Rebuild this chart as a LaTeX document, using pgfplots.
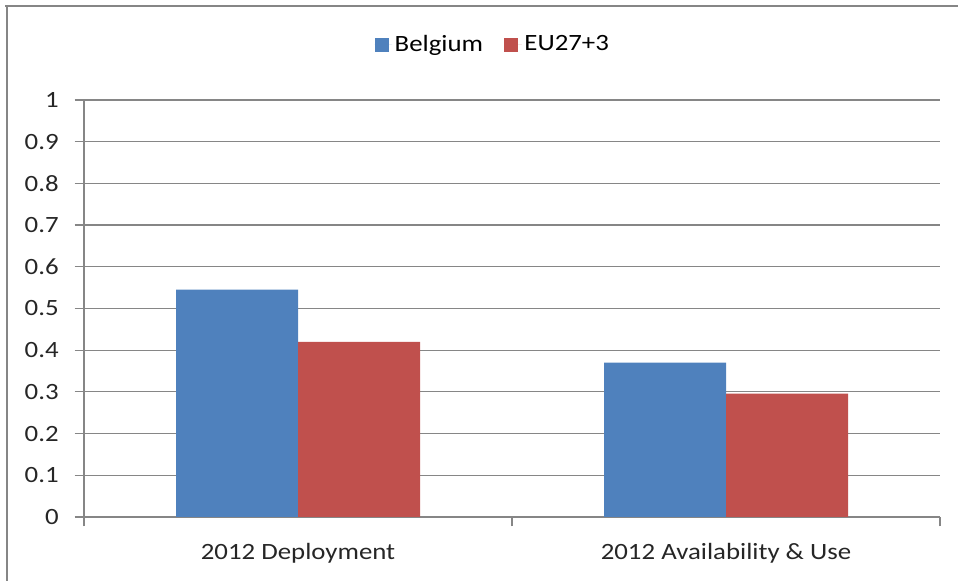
\documentclass[border=0pt]{standalone}
\usepackage{pgfplots}
\pgfplotsset{compat=1.18}
\usepackage{fontspec}
\setmainfont{Carlito}[FakeStretch=1.15]
\definecolor{cblue}{HTML}{4F81BD}
\definecolor{cred}{HTML}{C0504D}
\definecolor{cgrid}{HTML}{868686}
\begin{document}
\fontsize{17.5}{20}\selectfont
\begin{tikzpicture}
\path[use as bounding box] (0pt,0pt) rectangle (718.5pt,435.75pt);
\draw[line width=2.2pt,color=cgrid] (5.25pt,-2pt) -- (5.25pt,431.25pt);
\draw[line width=2.2pt,color=cgrid] (4pt,431.25pt) -- (720pt,431.25pt);
\begin{axis}[
  at={(63pt,48pt)}, anchor=south west,
  scale only axis,
  width=642pt, height=312.75pt,
  xmin=-0.5, xmax=1.5, ymin=0, ymax=1,
  ybar=0pt, bar width=91.5pt,
  axis x line*=bottom, axis y line*=left,
  axis line style={cgrid, line width=0.9pt, -},
  xtick={0,1},
  xticklabels={2012 Deployment, 2012 Availability \& Use},
  major x tick style={draw=none},
  minor xtick={-0.5,0.5,1.5},
  minor tick length=7pt,
  minor x tick style={cgrid, line width=0.9pt},
  xtick align=outside,
  ytick={0,0.1,...,1},
  yticklabels={0,0.1,0.2,0.3,0.4,0.5,0.6,0.7,0.8,0.9,1},
  ytick align=outside,
  major tick length=7pt,
  y tick style={cgrid, line width=0.9pt},
  ymajorgrids,
  grid style={cgrid, line width=0.9pt},
  /pgf/number format/assume math mode=true,
  tick label style={font=\fontsize{17.5}{20}\selectfont, text=black!85},
  xticklabel style={yshift=-7pt},
  yticklabel style={xshift=-6pt},
  legend style={at={(0.478,1.132)}, anchor=center, draw=none, fill=none,
    legend columns=2, font=\fontsize{17.5}{20}\selectfont,
    /tikz/every even column/.append style={column sep=14pt}},
  legend image code/.code={\path (0pt,0pt) -- (13pt,0pt);
    \fill[#1] (0pt,-5pt) rectangle (10.5pt,5.5pt);},
]
\addplot[fill=cblue, draw=none] coordinates {(0,0.545) (1,0.370)};
\addplot[fill=cred, draw=none] coordinates {(0,0.420) (1,0.296)};
\legend{Belgium, EU27+3}
\end{axis}
\end{tikzpicture}
\end{document}
